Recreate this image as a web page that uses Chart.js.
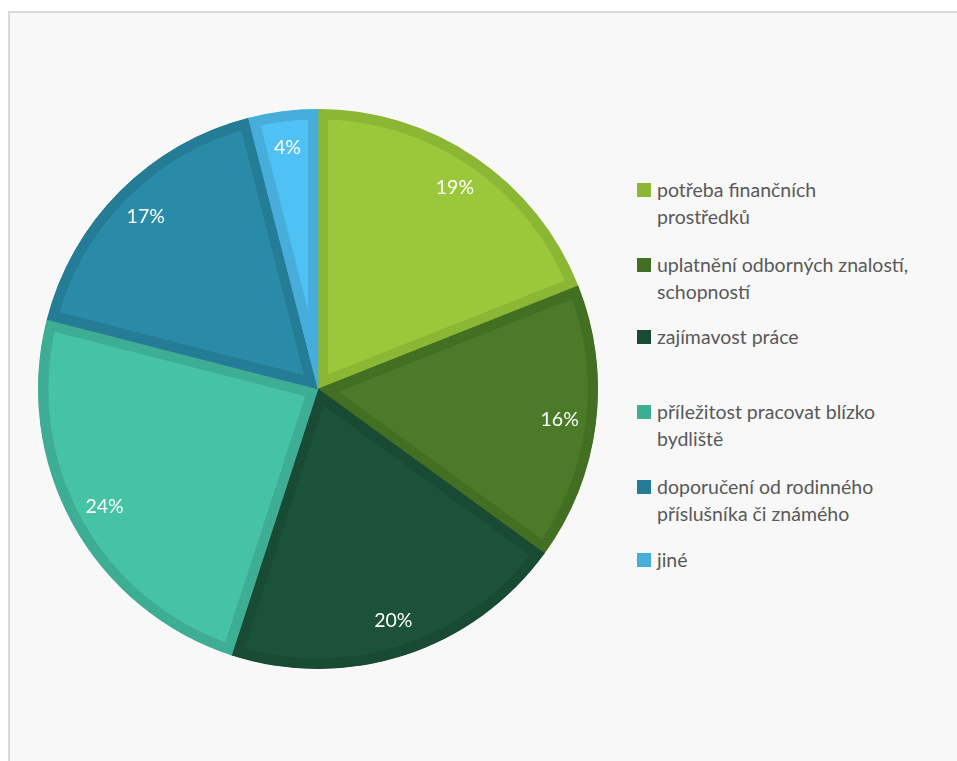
<!DOCTYPE html>
<html>
<head>
<meta charset="utf-8">
<script src="https://cdn.jsdelivr.net/npm/chart.js@4"></script>
<style>
  html, body { margin: 0; padding: 0; background: #fff; }
  body { width: 957px; height: 761px; position: relative; overflow: hidden; }
  #frame {
    position: absolute; left: 8px; top: 11px; width: 1000px; height: 800px;
    background: #f8f8f8; border: 2px solid #d9d9d9; box-sizing: border-box;
  }
  #pieBox { position: absolute; left: 38px; top: 109px; width: 560px; height: 560px; }
  #legend { position: absolute; left: 637px; top: 176px; width: 300px; font-family: Lato, sans-serif; }
  .item { position: absolute; left: 0; display: flex; align-items: flex-start; }
  .box { width: 14px; height: 14px; margin-top: 7px; margin-right: 6px; flex: none; }
  .txt { color: #595959; font-size: 19.5px; line-height: 27px; white-space: nowrap; }
</style>
</head>
<body>
<div id="frame"></div>
<div id="pieBox"><canvas id="canvasid"></canvas></div>
<div id="legend"></div>
<script>
const reasons = [
  ["potřeba finančních", "prostředků"],
  ["uplatnění odborných znalostí,", "schopností"],
  ["zajímavost práce"],
  ["příležitost pracovat blízko", "bydliště"],
  ["doporučení od rodinného", "příslušníka či známého"],
  ["jiné"]
];
const shares = [19, 16, 20, 24, 17, 4];
const fills = ["#9bc83b", "#4b7a28", "#1c513a", "#46c2a5", "#2a8ba8", "#4fc1f5"];
const edges = ["#8cb735", "#436f23", "#184a34", "#3dae93", "#257c97", "#47aedc"];

// percentage text placed near the outer edge of each slice
const sliceLabels = {
  id: "sliceLabels",
  afterDatasetsDraw(chart) {
    const ctx = chart.ctx;
    const meta = chart.getDatasetMeta(0);
    ctx.save();
    ctx.fillStyle = "#ffffff";
    ctx.font = "19.5px Lato";
    ctx.textAlign = "center";
    ctx.textBaseline = "middle";
    meta.data.forEach((arc, i) => {
      const mid = (arc.startAngle + arc.endAngle) / 2;
      const r = arc.outerRadius * 0.87;
      ctx.fillText(shares[i] + "%", arc.x + Math.cos(mid) * r, arc.y + Math.sin(mid) * r);
    });
    ctx.restore();
  }
};

new Chart(document.getElementById("canvasid"), {
  type: "pie",
  data: {
    labels: reasons,
    datasets: [{
      data: shares,
      backgroundColor: fills,
      borderColor: edges,
      borderWidth: 10,
      borderAlign: "inner",
      borderJoinStyle: "miter"
    }]
  },
  options: {
    responsive: true,
    maintainAspectRatio: false,
    animation: false,
    layout: { padding: 0 },
    plugins: {
      legend: { display: false },
      tooltip: { enabled: false }
    }
  },
  plugins: [sliceLabels]
});

// legend entries on the right
const legendTops = [0, 75, 147, 222, 297, 370];
const legend = document.getElementById("legend");
reasons.forEach((lines, i) => {
  const item = document.createElement("div");
  item.className = "item";
  item.style.top = legendTops[i] + "px";
  item.innerHTML = '<div class="box" style="background:' + edges[i] + '"></div><div class="txt">' + lines.join("<br>") + '</div>';
  legend.appendChild(item);
});
</script>
</body>
</html>
